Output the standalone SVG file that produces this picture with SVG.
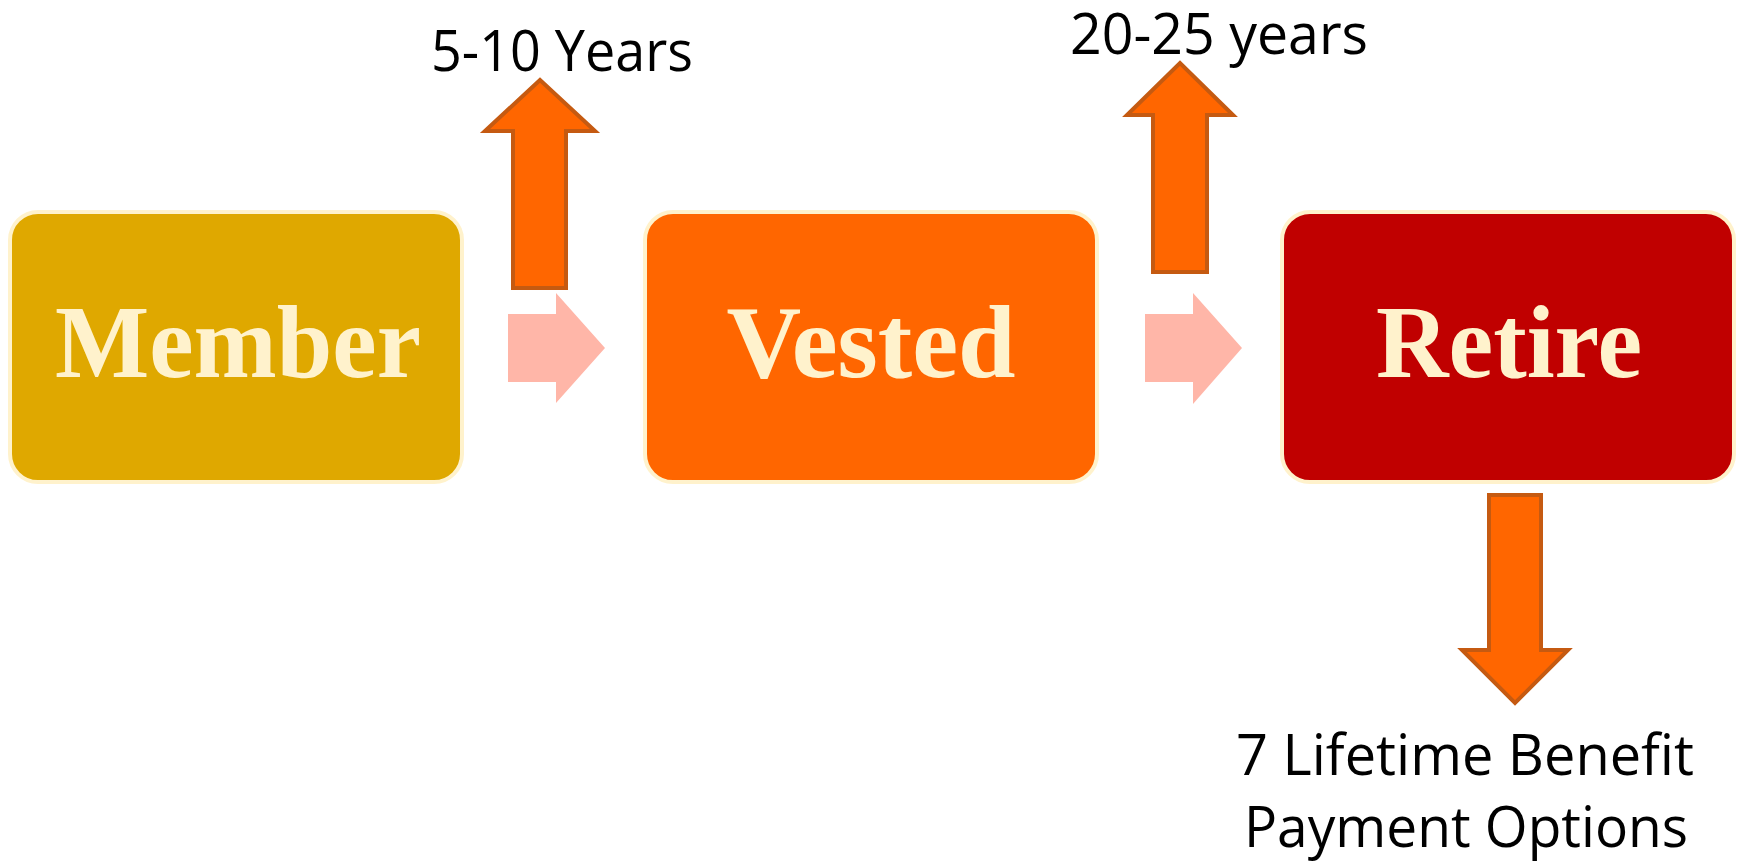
<svg xmlns="http://www.w3.org/2000/svg" width="1741" height="861" viewBox="0 0 1741 861">
<style>
.box{stroke:#FFF2CC;stroke-width:4}
.lbl{font-family:"Liberation Serif",serif;font-weight:bold;font-size:104px;fill:#FFF2CC;text-anchor:middle}
.flow{fill:#FFB6A8}
.side{fill:#FF6600;stroke:#C55A11;stroke-width:4;stroke-linejoin:miter}
.note{font-family:"Open Sans","Liberation Sans",sans-serif;font-size:56px;fill:#000;text-anchor:middle}
</style>
<rect width="1741" height="861" fill="#FFFFFF"/>
<g id="connectors">
<polygon class="flow" points="508,314 556,314 556,293 605,348 556,403 556,382 508,382"/>
<polygon class="flow" points="1145,314 1193,314 1193,293 1242,348 1193,404 1193,382 1145,382"/>
<polygon class="side" points="513,288 513,131 485,131 540,80 595,131 566,131 566,288"/>
<polygon class="side" points="1153,272 1153,115 1127,115 1180,63 1233,115 1207,115 1207,272"/>
<polygon class="side" points="1489,495 1541,495 1541,650 1568,650 1515,703 1462,650 1489,650"/>
</g>
<g id="member">
<rect class="box" x="10" y="212" width="452" height="270" rx="28" fill="#DFA800"/>
<text class="lbl" x="238" y="377" textLength="366" lengthAdjust="spacingAndGlyphs">Member</text>
</g>
<g id="vested">
<rect class="box" x="645" y="212" width="452" height="270" rx="28" fill="#FF6600"/>
<text class="lbl" x="871" y="377" textLength="289" lengthAdjust="spacingAndGlyphs">Vested</text>
</g>
<g id="retire">
<rect class="box" x="1282" y="212" width="452" height="270" rx="28" fill="#C00000"/>
<text class="lbl" x="1509" y="377" textLength="266" lengthAdjust="spacingAndGlyphs">Retire</text>
</g>
<g id="label-5-10">
<text class="note" x="562" y="71" textLength="262" lengthAdjust="spacingAndGlyphs">5-10 Years</text>
</g>
<g id="label-20-25">
<text class="note" x="1219" y="54" textLength="298" lengthAdjust="spacingAndGlyphs">20-25 years</text>
</g>
<g id="label-options">
<text class="note" x="1465" y="775" textLength="458" lengthAdjust="spacingAndGlyphs">7 Lifetime Benefit</text>
<text class="note" x="1466" y="847" textLength="444" lengthAdjust="spacingAndGlyphs">Payment Options</text>
</g>
</svg>
